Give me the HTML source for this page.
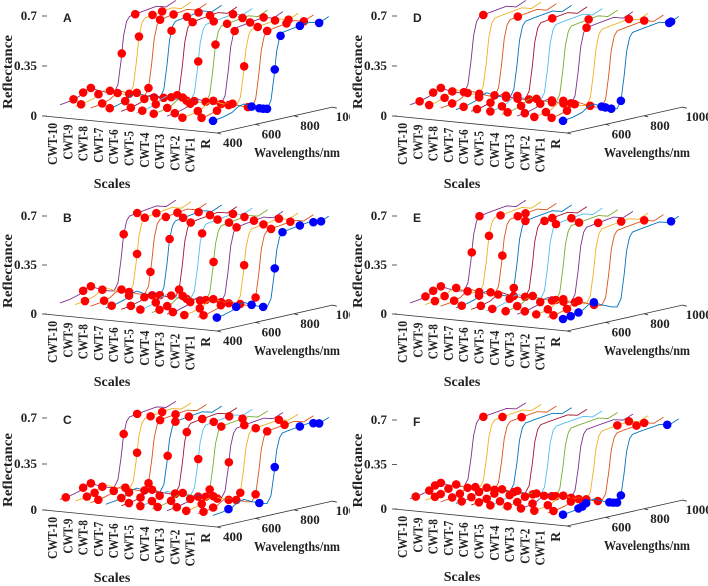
<!DOCTYPE html>
<html><head><meta charset="utf-8">
<style>
html,body{margin:0;padding:0;background:#fff;}
svg{display:block;}
text{font-family:"Liberation Serif",serif;font-weight:bold;fill:#222;}
.pl{font-family:"Liberation Sans",sans-serif;}
</style></head>
<body>
<svg id="chart" width="708" height="586" viewBox="0 0 708 586">
<defs><clipPath id="leftclip"><rect x="0" y="0" width="350" height="586"/></clipPath></defs>
</svg>
<script>
const scaleNames = ["CWT-10","CWT-9","CWT-8","CWT-7","CWT-6","CWT-5","CWT-4","CWT-3","CWT-2","CWT-1","R"];
const zTicks = [0, 0.35, 0.7];
const zTickLabels = ["0","0.35","0.7"];
const wlTicks = [400, 600, 800, 1000];
const specWl = [400,450,500,530,560,600,650,680,700,715,730,745,760,800,850,900,950,1000];
const specR  = [0.05,0.06,0.08,0.11,0.12,0.09,0.06,0.05,0.10,0.25,0.44,0.53,0.56,0.57,0.58,0.59,0.57,0.60];
const panelLetters = ["A","B","C","D","E","F"];
const dotsA = [[470,520,560,720,790],[430,520,580,730,800,850],[460,540,600,700,760,830],[420,500,560,650,740,820,880],[450,520,620,690,770,860],[430,500,580,660,720,800,900],[410,480,560,620,730,790,870],[440,520,600,680,750,830,900],[400,480,560,640,720,790,880,950],[420,500,580,660,760,860,950],[400,600,640,660,680,720,750,850,950]];
const dotsB = [[520,560,730,800],[450,540,720,760,820],[470,560,600,710,790,850],[430,520,640,730,800,880],[450,520,600,700,760,860],[420,500,580,660,740,820,900],[440,480,560,650,720,800,880],[430,520,600,680,760,850],[410,490,560,640,720,820,900],[430,520,620,700,780,880],[420,520,600,660,720,760,850,920,960]];
const dotsC = [[430,520,560,730,800],[460,500,540,720,790,850],[440,520,580,700,760,840],[480,520,600,720,760,830],[440,500,560,680,740,820],[420,480,520,600,720,800,880],[430,500,560,640,700,760,870],[450,520,600,660,720,800],[420,500,560,640,700,780,900],[430,480,600,700,760,850],[480,640,720,850,920,950]];
const dotsD = [[450,520,560,780],[420,500,540,600],[460,540,600,800],[440,520,600,660],[430,500,580,640,820],[420,480,560,620],[430,500,580,660,850],[440,520,580,640,760],[410,470,560,600,900],[420,500,540,620,900],[400,600,620,650,700,950,960]];
const dotsE = [[480,520,560,720,760],[450,500,560,730,790],[470,540,600,720,800,840],[430,520,580,700,760],[450,540,620,780,820],[430,520,600,760,840],[420,480,560,660,800],[440,520,600,640,820],[420,480,560,620,860],[430,500,560,640,900],[400,440,480,560,960]];
const dotsF = [[430,500,530,560,780],[450,480,520,560,800],[460,500,540,580,820],[430,480,520,560,600],[440,480,520,560,620],[420,470,520,560,640],[430,480,520,580,660],[420,480,540,600,680],[410,480,560,640,840,900],[430,520,600,660,860,900],[400,480,500,520,640,660,680,700,940]];
const panelDots = [dotsA, dotsB, dotsC, dotsD, dotsE, dotsF];
const lineColors = ["#7E2F8E","#EDB120","#D95319","#0072BD","#A2142F","#4DBEEE","#77AC30","#7E2F8E","#EDB120","#D95319","#0072BD"];

const NS = "http://www.w3.org/2000/svg";
const svg = document.getElementById("chart");
function mk(tag, attrs, parent){ const e=document.createElementNS(NS,tag); for(const k in attrs) e.setAttribute(k,attrs[k]); (parent||svg).appendChild(e); return e; }
function specAt(w){ for(let j=0;j<specWl.length-1;j++){ if(w<=specWl[j+1]){ const t=(w-specWl[j])/(specWl[j+1]-specWl[j]); return specR[j]+t*(specR[j+1]-specR[j]); } } return specR[specR.length-1]; }

const panelPos = [[0,0,116,16],[0,0,314,216],[0,0,510,418],[350,0,116,16],[350,0,314,216],[350,0,509,420]];

panelPos.forEach((p,pi)=>{
  const ox=p[0], z0=p[2], top=p[3];
  const k=(z0-top)/0.7;
  const g = mk("g",{});
  if(ox===0) g.setAttribute("clip-path","url(#leftclip)");
  
  
  const px=(i,wl,r)=>ox+60+i*15.3+(wl-400)*0.193;
  const py=(i,wl,r)=>z0-4+i*1.6-(wl-400)*0.043-r*k;
  const ax = mk("g",{},g);
  
  
  mk("line",{x1:ox+44,y1:z0,x2:ox+217,y2:z0+17,stroke:"#333","stroke-width":0.8},ax);
  mk("line",{x1:ox+217,y1:z0+17,x2:ox+333,y2:z0-9,stroke:"#333","stroke-width":0.8},ax);
  zTicks.forEach((v,ti)=>{
    const y=z0-v*k;
    mk("line",{x1:ox+42,y1:y,x2:ox+47,y2:y,stroke:"#333","stroke-width":0.8},ax);
    const t=mk("text",{x:ox+37,y:y+4,"font-size":13,"text-anchor":"end"},ax);
    if(ti==1){ t.setAttribute("textLength",23); t.setAttribute("lengthAdjust","spacingAndGlyphs"); }
    t.textContent=zTickLabels[ti];
    
    
  });
  wlTicks.forEach(w=>{
    const x=ox+217+(w-400)*0.193, y=z0+17-(w-400)*0.043;
    mk("line",{x1:x,y1:y,x2:x+4,y2:y+1,stroke:"#333","stroke-width":0.8},ax);
    if(!(pi>=3 && w==400)){
      const t=mk("text",{x:x+(w==1000?3:6),y:y+14,"font-size":13},ax);
      t.textContent=String(w);
      
      
    }
  });
  scaleNames.forEach((s,i)=>{
    const x=ox+57+i*15.3, y=z0+7+i*1.6;
    const t=mk("text",{x:x,y:y,"font-size":13.5,"text-anchor":"end",transform:`rotate(-90 ${x} ${y})`},ax);
    if(s.length>1){ t.setAttribute("textLength", s.length==6?42:35); t.setAttribute("lengthAdjust","spacingAndGlyphs"); }
    t.textContent=s;
    
    
  });
  const cy=(z0+top)/2+6;
  const yl=mk("text",{x:ox+12,y:cy,"font-size":14,"text-anchor":"middle",textLength:74,lengthAdjust:"spacingAndGlyphs",transform:`rotate(-90 ${ox+12} ${cy})`},g);
  yl.textContent="Reflectance";
  
  
  const sl=mk("text",{x:ox+112,y:z0+72,"font-size":14,"text-anchor":"middle"},g);
  sl.textContent="Scales";
  
  
  const wlT=mk("text",{x:ox+254,y:z0+41,"font-size":14,textLength:86,lengthAdjust:"spacingAndGlyphs"},g);
  wlT.textContent="Wavelengths/nm";
  
  
  const lt=mk("text",{x:ox+63,y:top+6,"font-size":12,"class":"pl"},g);
  lt.textContent=panelLetters[pi];
  
  
  scaleNames.forEach((s,i)=>{
    let d="";
    for(let w=400;w<=1000;w+=5){ d+=(w==400?"M":"L")+px(i,w,0).toFixed(1)+","+py(i,w,specAt(w)).toFixed(1); }
    const path=mk("path",{d:d,fill:"none",stroke:lineColors[i],"stroke-width":0.9},g);
    
    
    panelDots[pi][i].forEach(w=>{
      const c=mk("circle",{cx:px(i,w,0),cy:py(i,w,specAt(w)),r:4.3,fill:i==10?"#0000ff":"#ff0000"},g);
      
      
    });
  });
});
</script>
</body></html>
